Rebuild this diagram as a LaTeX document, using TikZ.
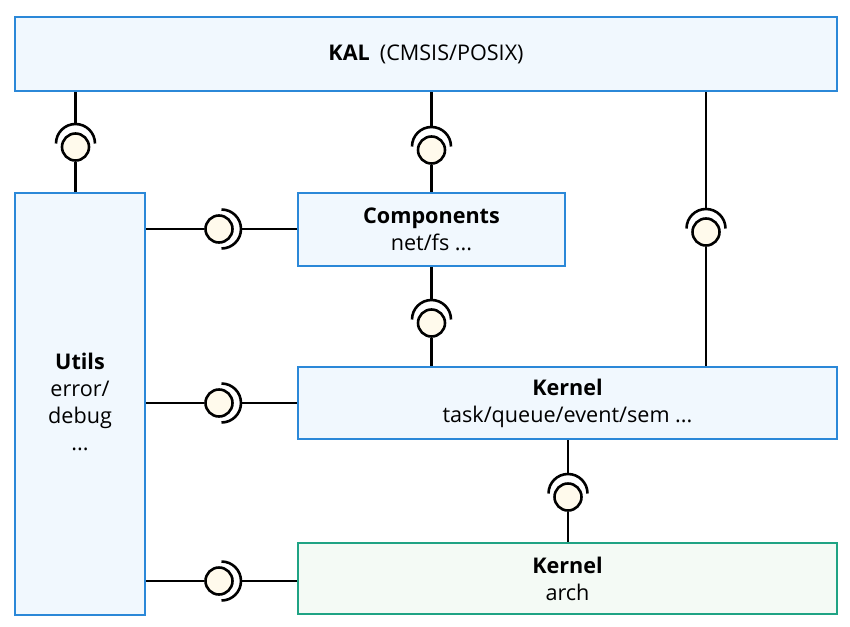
\documentclass[tikz,border=0pt]{standalone}
\usepackage{fontspec}
\setmainfont{Open Sans}
\definecolor{bblue}{HTML}{2B88D8}
\definecolor{bfill}{HTML}{F1F8FE}
\definecolor{ggreen}{HTML}{1FA384}
\definecolor{gfill}{HTML}{F4FAF5}
\definecolor{ballfill}{HTML}{FFFAEC}
\tikzset{
  txt/.style={font=\fontsize{21.6}{27}\selectfont, align=center},
  box/.style={draw=bblue, fill=bfill, line width=2.4pt, inner sep=0pt, txt},
  gbox/.style={box, draw=ggreen, fill=gfill},
  ball/.style={circle, draw=black, fill=ballfill, line width=2.6pt, minimum size=27pt, inner sep=0pt},
  conn/.style={line width=2.8pt, black},
  sock/.style={line width=2.6pt, black},
}
\newcommand{\sockup}[1]{\draw[sock] ([shift={(-19.5,3.5)}]#1.center) arc[start angle=180,end angle=0,radius=19.5];}
\newcommand{\sockright}[1]{\draw[sock] ([shift={(2.5,-19.5)}]#1.center) arc[start angle=-90,end angle=90,radius=19.5];}
\begin{document}
\begin{tikzpicture}[x=1pt,y=1pt]
\useasboundingbox (0,0) rectangle (850,-626);
% boxes
\node[box, minimum width=822pt, minimum height=74pt] (kal) at (426,-54) {\textbf{KAL}\hspace{10pt}(CMSIS/POSIX)};
\node[box, minimum width=130pt, minimum height=422pt, anchor=north] (utils) at (80,-192) {};
\node[txt, anchor=north] (utilst) at (80,-350) {\textbf{Utils}\\error/\\debug\\...};
\node[box, minimum width=267pt, minimum height=73pt] (comp) at (431.5,-229.5) {\textbf{Components}\\net/fs ...};
\node[box, minimum width=539pt, minimum height=72pt] (kern) at (567.5,-403) {\textbf{Kernel}\\task/queue/event/sem ...};
\node[gbox, minimum width=539pt, minimum height=71pt] (arch) at (567.5,-578.5) {\textbf{Kernel}\\arch};
% balls
\node[ball] (b1) at (75.5,-147) {};
\node[ball] (b2) at (431.5,-150) {};
\node[ball] (b3) at (706,-232) {};
\node[ball] (b4) at (431.5,-323) {};
\node[ball] (b5) at (568,-497) {};
\node[ball] (b6) at (219,-229) {};
\node[ball] (b7) at (219,-403) {};
\node[ball] (b8) at (219,-581) {};
% sockets
\sockup{b1}\sockup{b2}\sockup{b3}\sockup{b4}\sockup{b5}
\sockright{b6}\sockright{b7}\sockright{b8}
% vertical connectors
\foreach \b/\top/\bot in {b1/kal/utils, b2/kal/comp, b3/kal/kern, b4/comp/kern, b5/kern/arch}{
  \coordinate (s\b) at ([yshift=23]\b.center);
  \draw[conn] (s\b |- \top.south) -- (s\b);
  \draw[conn] (\b) -- (\b |- \bot.north);
}
% horizontal connectors
\foreach \b/\dst in {b6/comp, b7/kern, b8/arch}{
  \coordinate (s\b) at ([xshift=22]\b.center);
  \draw[conn] (\b -| utils.east) -- (\b);
  \draw[conn] (s\b) -- (s\b -| \dst.west);
}
\end{tikzpicture}
\end{document}
